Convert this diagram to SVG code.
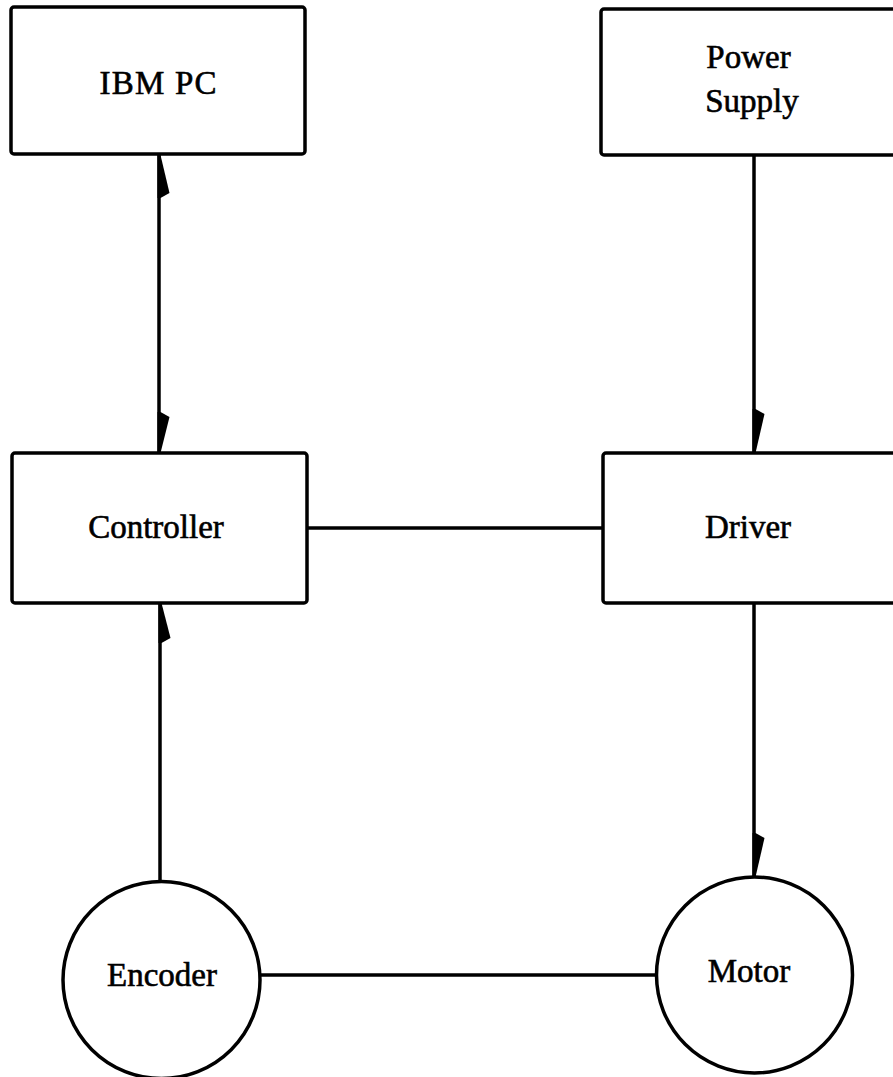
<svg xmlns="http://www.w3.org/2000/svg" width="893" height="1077" viewBox="0 0 893 1077">
<style>
.box{fill:#fff;stroke:#000;stroke-width:3.5}
.lbl{font-family:"Liberation Serif","Times New Roman",serif;font-size:33px;fill:#000;stroke:#000;stroke-width:0.6;text-anchor:middle}
.ln{stroke:#000;stroke-width:3.5;fill:none}
.ah{fill:#000;stroke:none}
</style>
<rect width="893" height="1077" fill="#fff"/>
<g id="connectors">
<line class="ln" x1="159" y1="155" x2="159" y2="453"/>
<path class="ah" d="M157.5,155 L160.5,155 L169.5,193 L160.5,198 L157.5,198 Z"/>
<path class="ah" d="M157.5,453 L160.5,453 L169.5,417 L160.5,412 L157.5,412 Z"/>
<line class="ln" x1="754" y1="155" x2="754" y2="453"/>
<path class="ah" d="M752.5,453 L755.5,453 L764.5,414 L755.5,409 L752.5,409 Z"/>
<line class="ln" x1="307" y1="528" x2="603" y2="528"/>
<line class="ln" x1="160" y1="603" x2="160" y2="882"/>
<path class="ah" d="M158.5,603 L161.5,603 L170.5,638 L161.5,643 L158.5,643 Z"/>
<line class="ln" x1="754" y1="603" x2="754" y2="877"/>
<path class="ah" d="M752.5,877 L755.5,877 L764.5,838 L755.5,833 L752.5,833 Z"/>
<line class="ln" x1="260" y1="975" x2="657" y2="975"/>
</g>
<g id="ibm-pc">
<rect class="box" x="11" y="7" width="294" height="147" rx="3"/>
<text class="lbl" x="158" y="94" textLength="117">IBM PC</text>
</g>
<g id="power-supply">
<rect class="box" x="601" y="9" width="330" height="146" rx="3"/>
<text class="lbl" x="748.5" y="68">Power</text>
<text class="lbl" x="752" y="112">Supply</text>
</g>
<g id="controller">
<rect class="box" x="12" y="453" width="295" height="150" rx="3"/>
<text class="lbl" x="156" y="538">Controller</text>
</g>
<g id="driver">
<rect class="box" x="603" y="453" width="330" height="150" rx="3"/>
<text class="lbl" x="748" y="538">Driver</text>
</g>
<g id="encoder">
<circle class="box" cx="161.5" cy="980" r="98.5"/>
<text class="lbl" x="162" y="986">Encoder</text>
</g>
<g id="motor">
<circle class="box" cx="754.5" cy="975" r="98"/>
<text class="lbl" x="749" y="982">Motor</text>
</g>
</svg>
